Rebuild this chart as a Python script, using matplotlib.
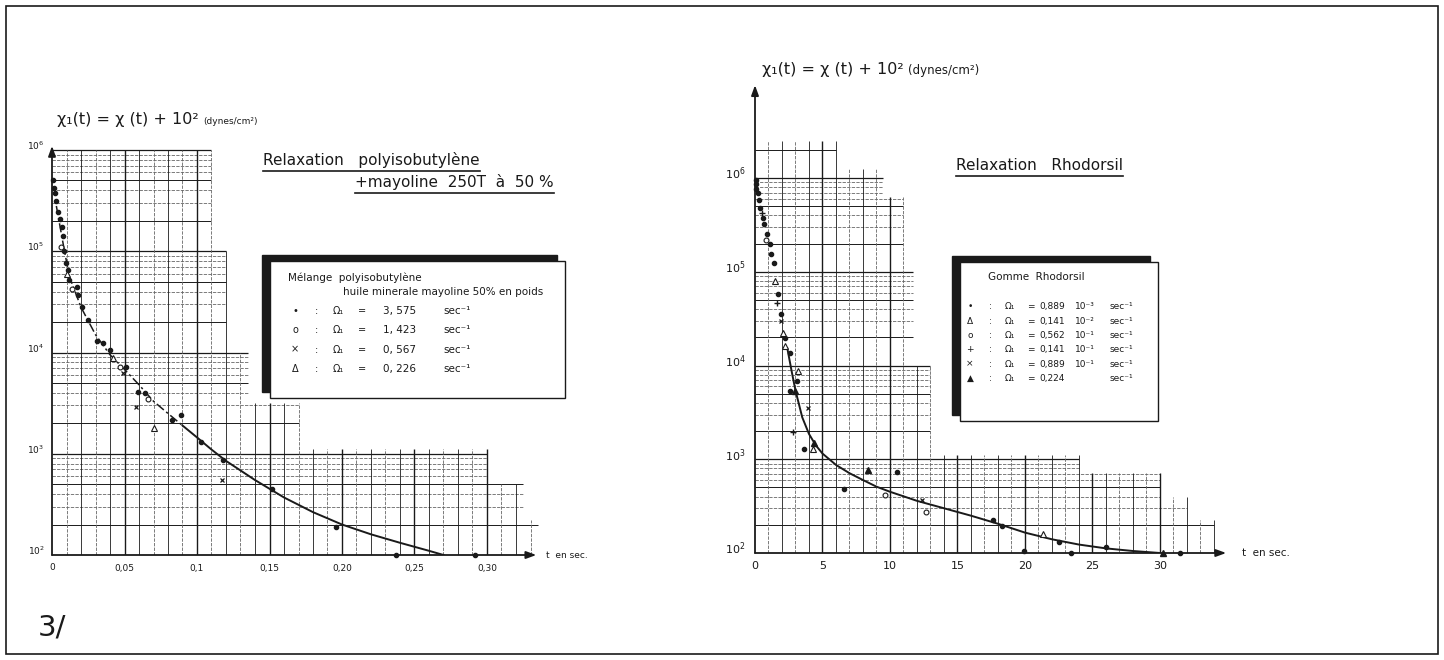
import numpy as np
import matplotlib.pyplot as plt
from matplotlib.patches import Rectangle
from matplotlib.lines import Line2D

plt.rcParams['font.family'] = ['DejaVu Sans']

# ---------------- left chart: polyisobutylene + mayoline ----------------
L_DOT_T = [0.001, 0.0015, 0.002, 0.003, 0.004, 0.0055, 0.007, 0.0076, 0.008, 0.0096,
           0.011, 0.012, 0.017, 0.018, 0.021, 0.025, 0.031, 0.035, 0.040, 0.051,
           0.059, 0.064, 0.083, 0.089, 0.103, 0.118, 0.152, 0.196, 0.237, 0.292]
L_DOT_Y = [5.0e5, 4.2e5, 3.8e5, 3.1e5, 2.45e5, 2.1e5, 1.75e5, 1.4e5, 1.0e5, 7.6e4,
           6.5e4, 5.2e4, 4.4e4, 3.7e4, 2.8e4, 2.1e4, 1.3e4, 1.25e4, 1.05e4, 7.2e3,
           4.1e3, 4.0e3, 2.15e3, 2.4e3, 1.3e3, 870, 450, 190, 100, 100]
L_CIRC_T = [0.006, 0.014, 0.047, 0.066]
L_CIRC_Y = [1.1e5, 4.2e4, 7.2e3, 3.5e3]
L_CROSS_T = [0.049, 0.058, 0.117]
L_CROSS_Y = [6.3e3, 2.9e3, 550]
L_TRI_T = [0.010, 0.042, 0.070]
L_TRI_Y = [6.0e4, 8.9e3, 1.8e3]

L_FIT_DASH_T = [0.003, 0.008, 0.012, 0.02, 0.03, 0.04, 0.05, 0.06, 0.07, 0.08, 0.09]
L_FIT_DASH_Y = [2.8e5, 1.12e5, 5.6e4, 2.8e4, 1.5e4, 9.5e3, 6.8e3, 4.8e3, 3.3e3, 2.5e3, 1.9e3]
L_FIT_T = [0.09, 0.10, 0.11, 0.12, 0.14, 0.16, 0.18, 0.20, 0.22, 0.24, 0.26, 0.27]
L_FIT_Y = [1.9e3, 1.45e3, 1.1e3, 850, 550, 370, 265, 200, 160, 132, 110, 100]

L_XTICKS = [0, 0.05, 0.10, 0.15, 0.20, 0.25, 0.30]
L_XLABELS = ["0", "0,05", "0,1", "0,15", "0,20", "0,25", "0,30"]
L_LEG_SYM = ["•", "o", "×", "Δ"]
L_LEG_VAL = ["3, 575", "1, 423", "0, 567", "0, 226"]

# ---------------- right chart: Rhodorsil ----------------
R_DOT_T = [0.1, 0.05, 0.1, 0.2, 0.3, 0.4, 0.6, 0.7, 0.9, 1.1, 1.2, 1.4, 1.7, 1.9,
           2.2, 2.6, 3.1, 2.6, 3.6, 6.6, 10.5, 17.6, 18.3, 19.9, 22.5, 23.4, 26.0, 31.5]
R_DOT_Y = [9.5e5, 8.7e5, 7.6e5, 6.9e5, 5.8e5, 4.8e5, 3.7e5, 3.2e5, 2.5e5, 2.0e5,
           1.55e5, 1.23e5, 5.8e4, 3.5e4, 1.95e4, 1.35e4, 6.9e3, 5.4e3, 1.3e3, 480,
           740, 225, 195, 105, 130, 100, 115, 100]
R_TRI_T = [1.5, 2.1, 2.2, 3.2, 4.3, 21.3]
R_TRI_Y = [8.0e4, 2.2e4, 1.6e4, 8.7e3, 1.3e3, 160]
R_CIRC_T = [0.8, 9.6, 12.7]
R_CIRC_Y = [2.2e5, 420, 275]
R_PLUS_T = [0.5, 1.6, 2.8]
R_PLUS_Y = [4.2e5, 4.6e4, 1.95e3]
R_CROSS_T = [1.9, 3.9, 12.4]
R_CROSS_Y = [3.0e4, 3.5e3, 370]
R_FTRI_T = [3.0, 4.4, 8.4, 30.2]
R_FTRI_Y = [5.4e3, 1.5e3, 760, 100]

R_FIT_T = [2.4, 2.7, 3.0, 3.5, 4.0, 4.5, 5.0, 6, 7, 8, 9, 10, 12, 14, 16, 18, 20,
           22, 24, 26, 28, 30]
R_FIT_Y = [15100, 8900, 5400, 2800, 1860, 1410, 1150, 870, 710, 600, 510, 450, 360,
           300, 250, 205, 165, 140, 123, 112, 105, 100]

R_XTICKS = [0, 5, 10, 15, 20, 25, 30]
R_XLABELS = ["0", "5", "10", "15", "20", "25", "30"]
R_LEG_SYM = ["•", "Δ", "o", "+", "×", "▲"]
R_LEG_VAL = ["0,889", "0,141", "0,562", "0,141", "0,889", "0,224"]
R_LEG_POW = ["10⁻³", "10⁻²", "10⁻¹", "10⁻¹", "10⁻¹", ""]

Y_TICKS = [1e2, 1e3, 1e4, 1e5, 1e6]
Y_LABELS = [r"$10^2$", r"$10^3$", r"$10^4$", r"$10^5$", r"$10^6$"]

# staircase outline of the printed log paper: (upper log10 y of band, last t)
L_PAPER = [(2.35, 0.335), (2.7, 0.325), (3.05, 0.30), (3.5, 0.17),
           (4.0, 0.135), (5.0, 0.12), (6.0, 0.11)]
R_PAPER = [(2.35, 34), (2.6, 32), (2.85, 30), (3.05, 24), (4.0, 13),
           (5.0, 11.7), (5.8, 11), (6.1, 9.5), (6.4, 6)]

W, H = 1444, 660
fig = plt.figure(figsize=(W / 100, H / 100), dpi=100)
INK = "#1a1a1a"
GREY = "#666666"


def ftext(x, y, s, **kw):
    return fig.text(x / W, 1 - y / H, s, color=INK, **kw)


def make_panel(px_t0, px_per_t, t_max, px_base, px_per_dec, ly_max):
    ax = fig.add_axes([px_t0 / W, 1 - px_base / H, t_max * px_per_t / W,
                       (ly_max - 2) * px_per_dec / H])
    ax.set_xlim(0, t_max)
    ax.set_yscale("log")
    ax.set_ylim(1e2, 10 ** ly_max)
    ax.set_axis_off()
    return ax


def paper_grid(ax, bands, t_step, n_vert):
    # horizontal lines at 1..9 x 10^k, cut by the staircase
    for k in range(2, 7):
        for m in range(1, 10):
            v = m * 10.0 ** k
            ly = np.log10(v)
            if ly < 2.01:
                continue
            tmax = None
            for top, tm in bands:
                if ly <= top + 1e-6:
                    tmax = tm
                    break
            if tmax is None:
                continue
            if m == 1:
                ax.hlines(v, 0, tmax, color=INK, lw=0.9)
            elif m in (2, 5):
                ax.hlines(v, 0, tmax, color=INK, lw=0.7)
            else:
                ax.hlines(v, 0, tmax, color=GREY, lw=0.6, linestyles=(0, (4, 1.5)))
    # vertical lines
    for i in range(1, n_vert + 1):
        t = i * t_step
        tops = [top for top, tm in bands if tm >= t - 1e-9]
        if not tops:
            continue
        y_top = 10 ** max(tops)
        if i % 5 == 0:
            ax.vlines(t, 1e2, y_top, color=INK, lw=1.0)
        elif i % 2 == 0:
            ax.vlines(t, 1e2, y_top, color=INK, lw=0.6)
        else:
            ax.vlines(t, 1e2, y_top, color=GREY, lw=0.6, linestyles=(0, (4, 1.5)))


def axes_arrows(ax, t_end, y_top):
    arrow = dict(arrowstyle="-|>,head_length=0.6,head_width=0.22", color=INK, lw=1.3,
                 shrinkA=0, shrinkB=0)
    ax.annotate("", xy=(t_end, 1e2), xytext=(0, 1e2), arrowprops=arrow,
                annotation_clip=False)
    ax.annotate("", xy=(0, y_top), xytext=(0, 1e2), arrowprops=arrow,
                annotation_clip=False)


def tick_labels(ax, ticks, labels, size, x_off):
    for t, lab in zip(ticks, labels):
        ax.annotate(lab, xy=(t, 1e2), xytext=(0, -13), textcoords="offset pixels",
                    ha="center", va="center", fontsize=size, color=INK,
                    annotation_clip=False)
    for v, lab in zip(Y_TICKS, Y_LABELS):
        ax.annotate(lab, xy=(0, v), xytext=(x_off, 4), textcoords="offset pixels",
                    ha="center", va="center", fontsize=size, color=INK,
                    annotation_clip=False)


# ---- left chart ----
axL = make_panel(52, 1450, 0.35, 555, 101.25, 6.15)
paper_grid(axL, L_PAPER, 0.01, 34)
axes_arrows(axL, 0.334, 10 ** 6.04)
tick_labels(axL, L_XTICKS, L_XLABELS, 6.5, -16)
axL.plot(L_FIT_DASH_T, L_FIT_DASH_Y, color=INK, lw=1.1, ls=(0, (6, 2, 1.5, 2)))
axL.plot(L_FIT_T, L_FIT_Y, color=INK, lw=1.4)
axL.plot(L_DOT_T, L_DOT_Y, "o", ms=3, color=INK, clip_on=False)
axL.plot(L_CIRC_T, L_CIRC_Y, "o", ms=3.5, mfc="white", mec=INK, mew=0.8)
axL.plot(L_CROSS_T, L_CROSS_Y, "x", ms=3.5, color=INK, mew=0.9)
axL.plot(L_TRI_T, L_TRI_Y, "^", ms=4, mfc="white", mec=INK, mew=0.8)
axL.annotate("t  en sec.", xy=(0.334, 1e2), xytext=(10, 0), textcoords="offset pixels",
             ha="left", va="center", fontsize=6.5, color=INK, annotation_clip=False)

# ---- right chart ----
axR = make_panel(755, 13.5, 37, 553, 93.75, 7.05)
paper_grid(axR, R_PAPER, 1, 34)
axes_arrows(axR, 34.9, 10 ** 6.99)
tick_labels(axR, R_XTICKS, R_XLABELS, 8, -20)
axR.plot(R_FIT_T, R_FIT_Y, color=INK, lw=1.4)
axR.plot(R_DOT_T, R_DOT_Y, "o", ms=3, color=INK, clip_on=False)
axR.plot(R_TRI_T, R_TRI_Y, "^", ms=4, mfc="white", mec=INK, mew=0.8)
axR.plot(R_CIRC_T, R_CIRC_Y, "o", ms=3.5, mfc="white", mec=INK, mew=0.8)
axR.plot(R_PLUS_T, R_PLUS_Y, "+", ms=4.5, color=INK, mew=1.0)
axR.plot(R_CROSS_T, R_CROSS_Y, "x", ms=3.5, color=INK, mew=0.9)
axR.plot(R_FTRI_T, R_FTRI_Y, "^", ms=4, color=INK, clip_on=False)
axR.annotate("t  en sec.", xy=(34.9, 1e2), xytext=(16, 0), textcoords="offset pixels",
             ha="left", va="center", fontsize=7.5, color=INK, annotation_clip=False)

# ---- y axis titles ----
renderer = fig.canvas.get_renderer()
for x, y, small in [(57, 124, 6.5), (762, 74, 8.5)]:
    t1 = ftext(x, y, "χ₁(t) = χ (t) + 10²", fontsize=11.5, va="baseline")
    bb = t1.get_window_extent(renderer)
    fig.text(bb.x1 / W + 0.003, 1 - y / H, "(dynes/cm²)", fontsize=small,
             va="baseline", color=INK)

# ---- titles with underline ----
def underline(txt, gap=3):
    bb = txt.get_window_extent(renderer)
    yy = (bb.y0 - gap) / H
    fig.add_artist(Line2D([bb.x0 / W, bb.x1 / W], [yy, yy], color=INK, lw=1.2))


underline(ftext(263, 160, "Relaxation   polyisobutylène", fontsize=11, va="center"))
underline(ftext(355, 182, "+mayoline  250T  à  50 %", fontsize=11, va="center"))
underline(ftext(956, 165, "Relaxation   Rhodorsil", fontsize=11, va="center"))


# ---- legend boxes with shadow ----
def shadow_box(x0, y0, x1, y1):
    fig.add_artist(Rectangle(((x0 - 8) / W, 1 - (y1 - 6) / H), (x1 - x0) / W,
                             (y1 - y0) / H, facecolor=INK, edgecolor=INK, zorder=2))
    fig.add_artist(Rectangle((x0 / W, 1 - y1 / H), (x1 - x0) / W, (y1 - y0) / H,
                             facecolor="white", edgecolor=INK, lw=1.0, zorder=2.5))


shadow_box(270, 261, 565, 398)
ftext(288, 278, "Mélange  polyisobutylène", fontsize=7.5, va="center", zorder=3)
ftext(343, 292, "huile minerale mayoline 50% en poids", fontsize=7.5, va="center",
      zorder=3)
for i, (sym, val) in enumerate(zip(L_LEG_SYM, L_LEG_VAL)):
    y = 311 + 19.3 * i
    ftext(295, y, sym, fontsize=7, va="center", ha="center", zorder=3)
    ftext(315, y, ":", fontsize=7, va="center", zorder=3)
    ftext(333, y, "Ω₁", fontsize=7, va="center", zorder=3)
    ftext(358, y, "=", fontsize=7, va="center", zorder=3)
    ftext(383, y, val, fontsize=7.5, va="center", zorder=3)
    ftext(443, y, "sec⁻¹", fontsize=7.5, va="center", zorder=3)

shadow_box(960, 262, 1158, 421)
ftext(988, 277, "Gomme  Rhodorsil", fontsize=7.5, va="center", zorder=3)
for i, (sym, val, pw) in enumerate(zip(R_LEG_SYM, R_LEG_VAL, R_LEG_POW)):
    y = 307 + 14.3 * i
    ftext(970, y, sym, fontsize=6.5, va="center", ha="center", zorder=3)
    ftext(989, y, ":", fontsize=6.5, va="center", zorder=3)
    ftext(1005, y, "Ω₁", fontsize=6.5, va="center", zorder=3)
    ftext(1027, y, "=", fontsize=6.5, va="center", zorder=3)
    ftext(1039, y, val, fontsize=6.5, va="center", zorder=3)
    ftext(1075, y, pw, fontsize=6.5, va="center", zorder=3)
    ftext(1110, y, "sec⁻¹", fontsize=6.5, va="center", zorder=3)

# ---- page number and frame ----
ftext(38, 628, "3/", fontsize=21, va="center")
fig.add_artist(Rectangle((6 / W, 1 - 654 / H), 1432 / W, 648 / H, fill=False,
                         edgecolor=INK, lw=1.2))

fig.savefig("out.png", dpi=100, facecolor="white")
